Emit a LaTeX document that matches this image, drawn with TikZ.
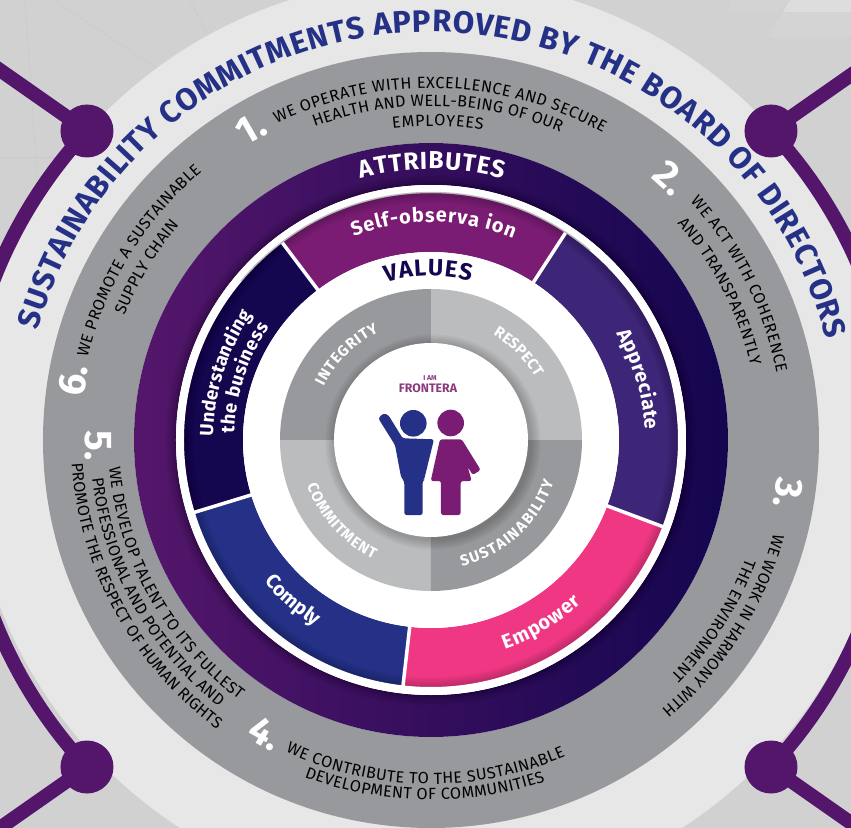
\documentclass[tikz,border=0pt]{standalone}
\usepackage{fontspec}
\setmainfont{Fira Sans}
\usetikzlibrary{decorations.text}

\definecolor{bgdark}{HTML}{D1D1D2}
\definecolor{bglight}{HTML}{E7E7E8}
\definecolor{ringgrey}{HTML}{98999C}
\definecolor{lightgrey}{HTML}{BBBCBE}
\definecolor{linkpurple}{HTML}{54166B}
\definecolor{deepnavy}{HTML}{14064F}
\definecolor{titleblue}{HTML}{243186}
\definecolor{selfpurple}{HTML}{7A1C73}
\definecolor{apprviolet}{HTML}{3D2577}
\definecolor{emppink}{HTML}{F03784}
\definecolor{franmagenta}{HTML}{8B3A7F}

\tikzset{
    numlabel/.style={text=white, font=\bfseries\fontsize{33}{33}\selectfont, inner sep=0pt},
    softshadow/.style={draw=black, opacity=0.035, fill=none},
    linkline/.style={linkpurple, line width=12pt},
    bgline/.style={franmagenta, opacity=0.06, line width=0.5pt}
}

% radius, start angle, end angle, colour, format, text
\newcommand{\curvetext}[6]{
    \path [decorate, decoration={text along path, text align={fit to path}, text color=#4, text={|#5|#6}}]
        (#2:#1) arc [start angle=#2, end angle=#3, radius=#1];
}
% start angle, end angle, colour
\newcommand{\segment}[3]{
    \fill [#3] (#1:188) arc [start angle=#1, end angle=#2, radius=188] -- (#2:248) arc [start angle=#2, end angle=#1, radius=248] -- cycle;
}
% start angle, colour
\newcommand{\quadrant}[2]{
    \fill [#2] (0,0) -- (#1:151) arc [start angle=#1, delta angle=90, radius=151] -- cycle;
}
\newcommand{\itemfont}{\fontsize{13.8}{15}\selectfont}
\newcommand{\attrfont}{\bfseries\fontsize{17}{18}\selectfont}
\newcommand{\underfont}{\bfseries\fontsize{16}{17}\selectfont}
\newcommand{\valfont}{\bfseries\fontsize{13}{14}\selectfont}

\begin{document}
\begin{tikzpicture}[scale=0.03]
    \useasboundingbox (-431,-388) rectangle (420,440);
    \clip (-431,-388) rectangle (420,440);

    %background
    \fill [bgdark] (-431,-388) rectangle (420,440);
    \fill [white, opacity=0.05] (299,440) -- (359,440) -- (347,428) -- (299,428) -- cycle;
    \fill [white, opacity=0.27] (359,440) -- (420,440) -- (420,428) -- (352,428) -- cycle;
    \fill [white, opacity=0.07] (352,428) -- (420,428) -- (420,403) -- (337,403) -- cycle;
    \draw [bgline] (-406,440) -- (-394,265);
    \draw [bgline] (-378,440) -- (-271,370);
    \draw [bgline] (-241,440) -- (-224,407);
    \draw [bgline] (-431,283) -- (-354,283);

    %the light ring
    \fill [bglight] (0,0) circle [radius=462];

    %links and dots
    \draw [linkline] ([shift={(-2,-9)}]137:467) arc [start angle=137, end angle=223, radius=467];
    \draw [linkline] ([shift={(-2,-9)}]43:467) arc [start angle=43, end angle=-43, radius=467];
    \draw [linkline] (-344,309) -- (-444,379);
    \draw [linkline] (340,309) -- (440,379);
    \draw [linkline] (-344,-327) -- (-444,-397);
    \draw [linkline] (340,-327) -- (440,-397);
    \fill [linkpurple] (-344,309) circle [radius=26.5];
    \fill [linkpurple] (340,309) circle [radius=26.5];
    \fill [linkpurple] (-344,-327) circle [radius=26.5];
    \fill [linkpurple] (340,-327) circle [radius=26.5];

    %the rings
    \fill [ringgrey, even odd rule] (0,0) circle [radius=388] (0,0) circle [radius=297];
    \shade [left color=linkpurple, right color=deepnavy, even odd rule] (0,0) circle [radius=297] (0,0) circle [radius=255];
    \foreach \w in {3,6,...,18} {
        \draw [softshadow, line width=\w] (0,0) circle [radius=255];
    }
    \fill [white] (0,0) circle [radius=255];

    %the attributes
    \segment{57}{127}{selfpurple}
    \segment{127}{197}{deepnavy}
    \segment{197}{263.5}{titleblue}
    \segment{263.5}{339.5}{emppink}
    \segment{-20.5}{57}{apprviolet}
    \foreach \w in {3,6,...,18} {
        \draw [softshadow, line width=\w] (0,0) circle [radius=248];
    }
    \fill [white, even odd rule] (0,0) circle [radius=255] (0,0) circle [radius=247];
    \foreach \a in {57,127,197,263.5,339.5} {
        \draw [white, line width=3pt] (\a:186) -- (\a:250);
    }
    \draw [black!45, opacity=0.6, line width=1.2pt] (140:247.5) arc [start angle=140, end angle=50, radius=247.5];
    \fill [white] (0,0) circle [radius=188];

    %the values
    \quadrant{0}{lightgrey}
    \quadrant{90}{ringgrey}
    \quadrant{180}{lightgrey}
    \quadrant{270}{ringgrey}
    \foreach \w in {3,6,...,18} {
        \draw [softshadow, line width=\w] (2,-2) circle [radius=97];
    }
    \fill [white] (0,0) circle [radius=97];

    %the people
    \fill [titleblue] (-17.7,16.7) circle [radius=13.3];
    \fill [selfpurple] (19.7,17) circle [radius=13.3];
    \fill [titleblue, rounded corners=2pt] (-52.7,21.7) -- (-47.7,26.7) -- (-42.7,25) -- (-28.3,1.7) -- (3,0.7) -- (-7,-40) -- (-8.3,-40.7) -- (-8.3,-75) -- (-26.7,-75) -- (-26.7,-41.7) -- (-30,-36.7) -- (-36,-5) -- cycle;
    \fill [selfpurple, rounded corners=2pt] (9,0.7) -- (30.7,0.7) -- (49.7,-30) -- (41.7,-35) -- (36.7,-26.7) -- (40.7,-41) -- (29.7,-41) -- (29.7,-75) -- (10,-75) -- (10,-41) -- (-0.3,-41) -- cycle;
    \node [text=franmagenta, font=\bfseries\fontsize{6}{6}\selectfont, inner sep=0pt] (iam) at (-1,62) {I AM};
    \node [text=franmagenta, font=\bfseries\fontsize{10.5}{11}\selectfont, inner sep=0pt] (frontera) at (-3,52) {FRONTERA};

    %the curved texts
    \curvetext{408}{164.4}{14.2}{titleblue}{\bfseries\fontsize{26.5}{28}\selectfont}{SUSTAINABILITY COMMITMENTS APPROVED BY THE BOARD OF DIRECTORS}
    \curvetext{271}{105}{74.6}{white}{\bfseries\fontsize{21}{22}\selectfont}{ATTRIBUTES}
    \curvetext{164}{106}{76}{deepnavy}{\bfseries\fontsize{20}{21}\selectfont}{VALUES}

    \curvetext{218}{110.8}{67.8}{white}{\attrfont}{Self-observa ion}
    \curvetext{214}{29.9}{2.7}{white}{\attrfont}{Appreciate}
    \curvetext{222}{289.4}{312.8}{white}{\attrfont}{Empower}
    \curvetext{219}{220.4}{237.6}{white}{\attrfont}{Comply}
    \curvetext{218}{179}{145}{white}{\underfont}{Understanding}
    \curvetext{197}{178}{145}{white}{\underfont}{the business}

    \curvetext{120}{153.4}{115.7}{white}{\valfont}{INTEGRITY}
    \curvetext{122}{59.4}{31.5}{white}{\valfont}{RESPECT}
    \curvetext{132}{200}{244.2}{white}{\valfont}{COMMITMENT}
    \curvetext{130}{283.7}{341}{white}{\valfont}{SUSTAINABILITY}

    \curvetext{352}{116}{60.8}{black}{\itemfont}{WE OPERATE WITH EXCELLENCE AND SECURE}
    \curvetext{334}{110.4}{67.2}{black}{\itemfont}{HEALTH AND WELL-BEING OF OUR}
    \curvetext{314}{97}{80.5}{black}{\itemfont}{EMPLOYEES}

    \curvetext{352}{42.6}{11}{black}{\itemfont}{WE ACT WITH COHERENCE}
    \curvetext{328}{41.4}{13}{black}{\itemfont}{AND TRANSPARENTLY}

    \curvetext{355}{-15.2}{-49.5}{black}{\itemfont}{WE WORK IN HARMONY WITH}
    \curvetext{336}{-20.6}{-44.5}{black}{\itemfont}{THE ENVIRONMENT}

    \curvetext{344}{245}{293}{black}{\itemfont}{WE CONTRIBUTE TO THE SUSTAINABLE}
    \curvetext{360}{249.4}{288.5}{black}{\itemfont}{DEVELOPMENT OF COMMUNITIES}

    \curvetext{323}{184.8}{233.5}{black}{\itemfont}{WE DEVELOP TALENT TO ITS FULLEST}
    \curvetext{341}{186.4}{231.5}{black}{\itemfont}{PROFESSIONAL AND POTENTIAL AND}
    \curvetext{360}{183.7}{233.5}{black}{\itemfont}{PROMOTE THE RESPECT OF HUMAN RIGHTS}

    \curvetext{353}{166.5}{130.5}{black}{\itemfont}{WE PROMOTE A SUSTAINABLE}
    \curvetext{331}{157.9}{139.5}{black}{\itemfont}{SUPPLY CHAIN}

    %the numbers
    \node [numlabel, rotate=30] (numone) at (120:360) {1.};
    \node [numlabel, rotate=-42] (numtwo) at (47.6:355) {2.};
    \node [numlabel, rotate=-98] (numthree) at (-8.5:361) {3.};
    \node [numlabel, rotate=-29] (numfour) at (240.5:337) {4.};
    \node [numlabel, rotate=-90] (numfive) at (181:333) {5.};
    \node [numlabel, rotate=80] (numsix) at (170.5:363) {6.};
\end{tikzpicture}
\end{document}
